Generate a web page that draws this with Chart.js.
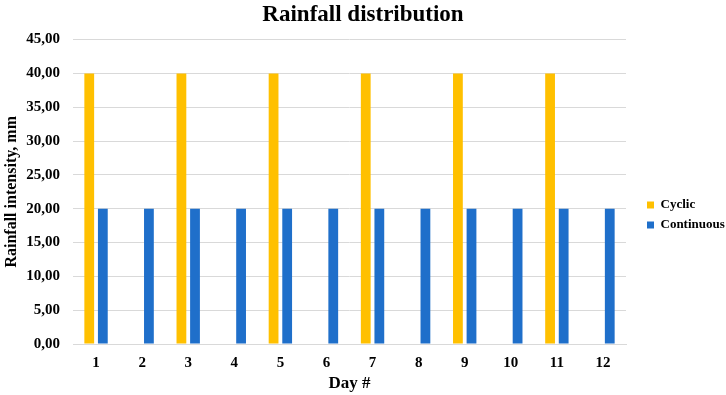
<!DOCTYPE html>
<html lang="en">
<head>
    <meta charset="UTF-8">
    <title>Rainfall distribution</title>
    <script src="https://cdn.jsdelivr.net/npm/chart.js"></script>
    <style>
        html, body { margin: 0; padding: 0; background: #ffffff; }
        #wrap { width: 726px; height: 395px; }
    </style>
</head>
<body>
    <div id="wrap"><canvas id="rainChart" width="726" height="395"></canvas></div>
    <script>
        // Chart data
        const days = ['1', '2', '3', '4', '5', '6', '7', '8', '9', '10', '11', '12'];
        const cyclic = [40, 0, 40, 0, 40, 0, 40, 0, 40, 0, 40, 0];
        const continuous = [20, 20, 20, 20, 20, 20, 20, 20, 20, 20, 20, 20];
        const yTicks = [0, 5, 10, 15, 20, 25, 30, 35, 40, 45];

        const serif = "'Liberation Serif', 'Times New Roman', serif";
        const gridColor = '#d9d9d9';

        // legend: reserve a fixed 100px column and draw the entries a bit further in
        const legendBox = {
            id: 'legendBox',
            afterInit(chart) {
                const lg = chart.legend;
                const fit = lg.fit.bind(lg);
                const draw = lg.draw.bind(lg);
                lg.fit = function () { fit(); this.width = 100; };
                lg.draw = function () {
                    this.left += 14;
                    draw();
                    this.left -= 14;
                };
            }
        };

        new Chart(document.getElementById('rainChart'), {
            type: 'bar',
            data: {
                labels: days,
                datasets: [
                    {
                        label: 'Cyclic',
                        data: cyclic,
                        backgroundColor: '#ffc000',
                        categoryPercentage: 0.59,
                        barPercentage: 0.72
                    },
                    {
                        label: 'Continuous',
                        data: continuous,
                        backgroundColor: '#1f6fca',
                        categoryPercentage: 0.59,
                        barPercentage: 0.72
                    }
                ]
            },
            plugins: [legendBox],
            options: {
                responsive: false,
                animation: false,
                layout: { padding: { left: 0, right: 0, top: 0, bottom: 1 } },
                plugins: {
                    title: {
                        display: true,
                        text: 'Rainfall distribution',
                        color: '#000',
                        font: { family: serif, size: 23, weight: 'bold' },
                        padding: { top: 1, bottom: 11 }
                    },
                    legend: {
                        position: 'right',
                        // empty legend title only pushes the entries a bit lower
                        title: { display: true, text: ' ', font: { size: 10 }, padding: { top: 0, bottom: 24 } },
                        labels: {
                            color: '#000',
                            boxWidth: 7,
                            boxHeight: 7,
                            padding: 7,
                            font: { family: serif, size: 13, weight: 'bold' }
                        }
                    },
                    tooltip: { enabled: false }
                },
                scales: {
                    x: {
                        afterFit: axis => { axis.height = 50; },
                        grid: { display: false, drawTicks: false },
                        border: { color: gridColor },
                        ticks: {
                            color: '#000',
                            padding: 10,
                            font: { family: serif, size: 15, weight: 'bold' }
                        },
                        title: {
                            display: true,
                            text: 'Day #',
                            color: '#000',
                            padding: { top: 2, bottom: 0 },
                            font: { family: serif, size: 17, weight: 'bold' }
                        }
                    },
                    y: {
                        min: 0,
                        max: 45,
                        afterBuildTicks: axis => { axis.ticks = yTicks.map(v => ({ value: v })); },
                        afterFit: axis => { axis.width = 73; },
                        grid: { color: gridColor, drawTicks: false },
                        border: { display: false },
                        ticks: {
                            color: '#000',
                            padding: 13,
                            font: { family: serif, size: 15, weight: 'bold' },
                            callback: v => v.toFixed(2).replace('.', ',')
                        },
                        title: {
                            display: true,
                            text: 'Rainfall intensity, mm',
                            color: '#000',
                            padding: { top: 2, bottom: 0 },
                            font: { family: serif, size: 16, weight: 'bold' }
                        }
                    }
                }
            }
        });
    </script>
</body>
</html>
